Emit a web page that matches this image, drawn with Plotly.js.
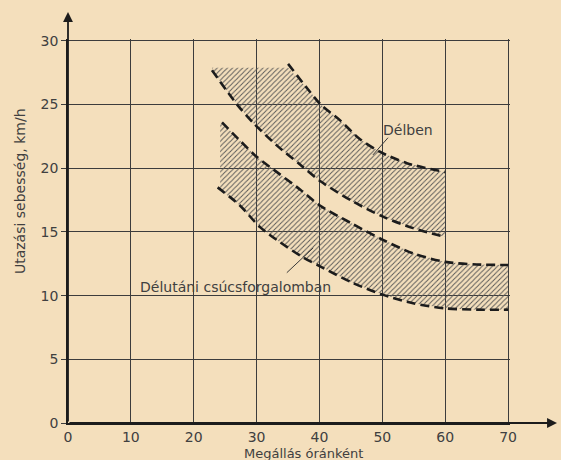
<!DOCTYPE html>
<html>
<head>
<meta charset="utf-8">
<script src="https://cdn.plot.ly/plotly-3.0.1.min.js"></script>
<style>html,body{margin:0;padding:0;background:#f4dfbc;}#chart{width:561px;height:460px;}</style>
</head>
<body>
<div id="chart"></div>
<script>
// ---- data ----
const xTicks = [0, 10, 20, 30, 40, 50, 60, 70];
const yTicks = [0, 5, 10, 15, 20, 25, 30];

// "Délben" band (noon)
const delbenUpperX = [35.0, 38.0, 40.2, 43.2, 46.4, 49.6, 53.9, 60.0];
const delbenUpperY = [28.2, 26.3, 25.0, 23.8, 22.3, 21.3, 20.4, 19.7];
const delbenLowerX = [22.9, 26.9, 29.4, 33.2, 36.9, 40.1, 45.3, 50.1, 54.9, 60.0];
const delbenLowerY = [27.7, 25.0, 23.6, 21.8, 20.3, 19.0, 17.4, 16.2, 15.3, 14.6];
const delbenHatchTop = 27.9;

// "Délutáni csúcsforgalomban" band (afternoon peak)
const deluUpperX = [24.5, 27.5, 30.0, 33.5, 37.0, 40.0, 45.0, 50.0, 55.0, 60.0, 65.0, 70.0];
const deluUpperY = [23.6, 22.1, 20.9, 19.6, 18.3, 17.1, 15.7, 14.4, 13.3, 12.65, 12.45, 12.4];
const deluLowerX = [23.8, 27.3, 30.5, 33.7, 37.4, 40.1, 45.3, 49.9, 54.9, 60.0, 65.0, 70.0];
const deluLowerY = [18.5, 17.1, 15.4, 14.2, 13.0, 12.3, 11.0, 10.1, 9.4, 9.0, 8.9, 8.9];
const deluHatchLeft = 24.2;

const labelDelben = 'Délben';
const labelDelu = 'Délutáni csúcsforgalomban';
const xTitle = 'Megállás óránként';
const yTitle = 'Utazási sebesség, km/h';

// ---- build hatch polygons from the arrays ----
function rev(a){ return a.slice().reverse(); }
const delbenPolyX = [delbenLowerX[0], delbenUpperX[0]]
  .concat(delbenUpperX.slice(1))
  .concat(rev(delbenLowerX));
const delbenPolyY = [delbenHatchTop, delbenHatchTop]
  .concat(delbenUpperY.slice(1))
  .concat(rev(delbenLowerY));

const deluPolyX = [deluHatchLeft].concat(deluUpperX).concat(rev(deluLowerX)).concat([deluHatchLeft]);
const deluPolyY = [deluUpperY[0]].concat(deluUpperY).concat(rev(deluLowerY)).concat([deluLowerY[0]]);

const ink = '#1c1c1c';
const paper = '#f4dfbc';
const hatch = {shape: '/', size: 3.6, solidity: 0.25, fgcolor: '#555', bgcolor: 'rgba(0,0,0,0)'};
const dashLine = {color: ink, width: 2.6, dash: '9px,5px', shape: 'spline', smoothing: 0.8};

const traces = [
  {x: delbenPolyX, y: delbenPolyY, type: 'scatter', mode: 'lines', fill: 'toself',
   fillcolor: 'rgba(0,0,0,0)', fillpattern: hatch, line: {width: 0}, hoverinfo: 'skip'},
  {x: deluPolyX, y: deluPolyY, type: 'scatter', mode: 'lines', fill: 'toself',
   fillcolor: 'rgba(0,0,0,0)', fillpattern: hatch, line: {width: 0}, hoverinfo: 'skip'},
  {x: delbenUpperX, y: delbenUpperY, type: 'scatter', mode: 'lines', line: dashLine},
  {x: delbenLowerX, y: delbenLowerY, type: 'scatter', mode: 'lines', line: dashLine},
  {x: deluUpperX, y: deluUpperY, type: 'scatter', mode: 'lines', line: dashLine},
  {x: deluLowerX, y: deluLowerY, type: 'scatter', mode: 'lines', line: dashLine}
];

const font = {family: 'DejaVu Sans, sans-serif', size: 14, color: '#404040'};
const titleFont = {family: 'DejaVu Sans, sans-serif', size: 13, color: '#404040'};

const layout = {
  width: 561, height: 460,
  margin: {l: 68, r: 51, t: 39, b: 37, pad: 0},
  paper_bgcolor: paper, plot_bgcolor: paper,
  showlegend: false,
  font: font,
  xaxis: {
    range: [0, 70.3], tickvals: xTicks, ticktext: xTicks.map(String),
    showgrid: true, gridcolor: '#3c3c3c', gridwidth: 1,
    zeroline: false, showline: true, linecolor: ink, linewidth: 1.8,
    ticks: '', tickfont: font,
    fixedrange: true
  },
  yaxis: {
    range: [0, 30.15], tickvals: yTicks, ticktext: yTicks.map(String),
    showgrid: true, gridcolor: '#3c3c3c', gridwidth: 1,
    zeroline: false, showline: true, linecolor: ink, linewidth: 1.8,
    ticks: 'outside', ticklen: 5, tickcolor: '#3c3c3c', tickfont: font,
    fixedrange: true
  },
  shapes: [
    {type: 'line', xref: 'x', yref: 'y', x0: 48.5, y0: 21.05, x1: 50.9, y1: 22.4, line: {color: '#3a3a3a', width: 1}},
    {type: 'line', xref: 'x', yref: 'y', x0: 34.8, y0: 11.8, x1: 39.0, y1: 13.75, line: {color: '#3a3a3a', width: 1}}
  ],
  annotations: [
    {xref: 'paper', yref: 'paper', x: 0, y: 1.0703, ax: 0, ay: 411, axref: 'pixel', ayref: 'pixel',
     text: '', showarrow: true, arrowhead: 2, arrowsize: 1.1, arrowwidth: 1.8, arrowcolor: ink, standoff: 0},
    {xref: 'paper', yref: 'paper', x: 1.1063, y: 0, ax: -489, ay: 0, axref: 'pixel', ayref: 'pixel',
     text: '', showarrow: true, arrowhead: 2, arrowsize: 1.1, arrowwidth: 1.8, arrowcolor: ink, standoff: 0},
    {xref: 'x', yref: 'y', x: 54.1, y: 23.0, text: labelDelben, showarrow: false, font: font},
    {xref: 'x', yref: 'y', x: 26.7, y: 10.7, text: labelDelu, showarrow: false, font: font},
    {xref: 'paper', yref: 'paper', x: 0.5317, y: -0.0794, text: xTitle, showarrow: false, font: titleFont,
     xanchor: 'center', yanchor: 'middle'},
    {xref: 'paper', yref: 'paper', x: -0.1086, y: 0.604, text: yTitle, showarrow: false, font: font,
     textangle: -90, xanchor: 'center', yanchor: 'middle'}
  ]
};

Plotly.newPlot('chart', traces, layout, {displayModeBar: false, staticPlot: true});
</script>
</body>
</html>
